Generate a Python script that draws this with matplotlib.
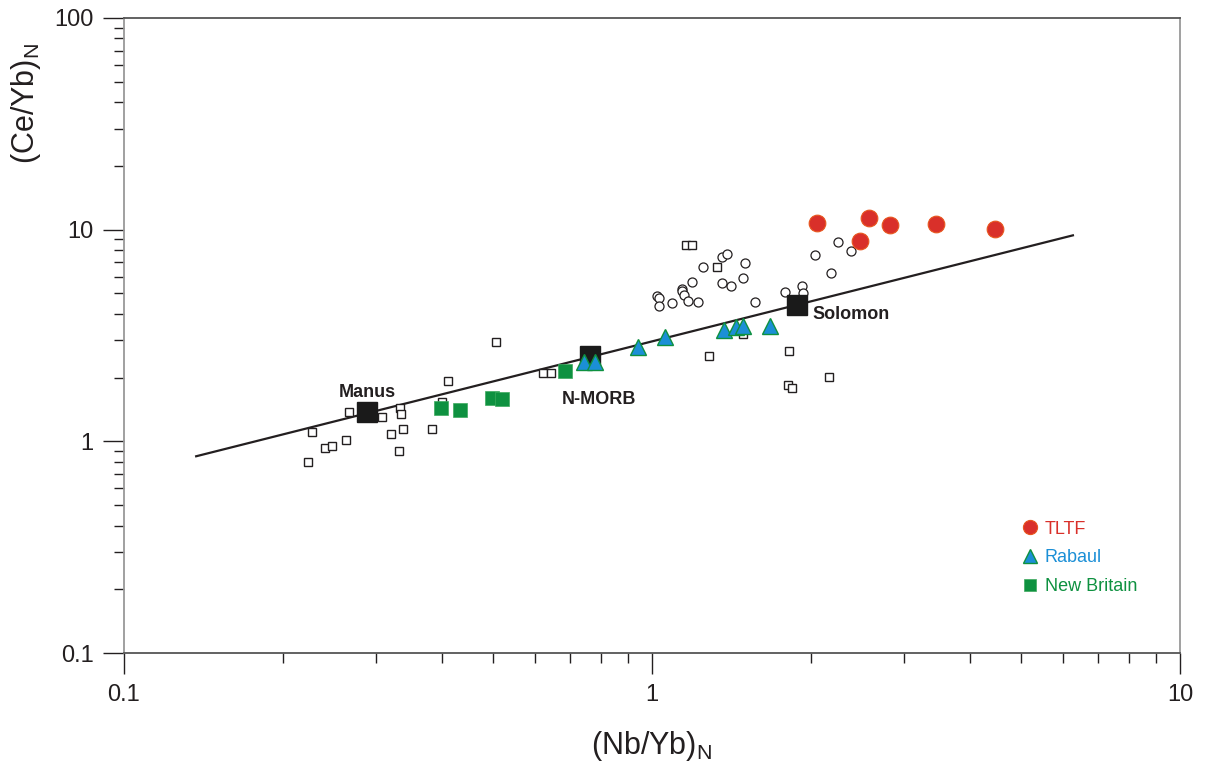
import numpy as np
import matplotlib
matplotlib.use("Agg")
import matplotlib.pyplot as plt

plt.rcParams['font.family'] = ['Liberation Sans', 'DejaVu Sans']
plt.rcParams['mathtext.default'] = 'regular'

# open squares (literature data)
sq_x = [0.227, 0.267, 0.223, 0.240, 0.248, 0.263, 0.308, 0.333, 0.335, 0.320,
        0.338, 0.332, 0.411, 0.383, 0.400, 0.507, 0.622, 0.644, 1.16, 1.19,
        1.33, 1.49, 1.28, 1.82, 1.81, 1.84, 2.16]
sq_y = [1.11, 1.37, 0.80, 0.93, 0.95, 1.01, 1.30, 1.43, 1.34, 1.08,
        1.14, 0.90, 1.92, 1.14, 1.53, 2.94, 2.10, 2.10, 8.43, 8.43,
        6.64, 3.20, 2.52, 2.66, 1.84, 1.78, 2.01]

# open circles
ci_x = [1.02, 1.03, 1.03, 1.09, 1.14, 1.14, 1.15, 1.17, 1.22, 1.19, 1.25, 1.36, 1.39,
        1.50, 1.36, 1.41, 1.49, 1.57, 1.79, 1.92, 1.93, 2.18, 2.04, 2.25, 2.38]
ci_y = [4.84, 4.74, 4.34, 4.49, 5.22, 5.11, 4.89, 4.58, 4.54, 5.64, 6.64, 7.40, 7.64,
        6.93, 5.57, 5.40, 5.89, 4.54, 5.06, 5.40, 5.00, 6.22, 7.56, 8.71, 7.90]

tltf_x = [2.05, 2.58, 2.82, 3.45, 4.46, 2.48]
tltf_y = [10.7, 11.3, 10.5, 10.6, 10.1, 8.81]

rab_x = [0.941, 1.06, 1.37, 1.44, 1.49, 1.67, 0.743, 0.780]
rab_y = [2.78, 3.10, 3.34, 3.46, 3.49, 3.49, 2.36, 2.36]

nb_x = [0.398, 0.433, 0.498, 0.520, 0.684]
nb_y = [1.43, 1.40, 1.60, 1.58, 2.14]

ref_names = ["Manus", "N-MORB", "Solomon"]
ref_x = [0.289, 0.763, 1.88]
ref_y = [1.37, 2.52, 4.39]

line_x = [0.137, 6.27]
line_y = [0.85, 9.40]

red = '#D9302A'
blue = '#1B8FD6'
green = '#0E9140'
txt = '#231F20'

fig = plt.figure(figsize=(12.06, 7.65), dpi=100)
ax = fig.add_axes([0.1028, 0.1464, 0.8756, 0.8301])

ax.plot(line_x, line_y, color=txt, lw=1.6, zorder=2)

ax.plot(sq_x, sq_y, 's', ms=6.3, mfc='white', mec=txt, mew=1.0, ls='none', zorder=3)
ax.plot(ci_x, ci_y, 'o', ms=6.5, mfc='white', mec=txt, mew=0.9, ls='none', zorder=3)

h1, = ax.plot(tltf_x, tltf_y, 'o', ms=12, mfc=red, mec='#E8561E', mew=0.8, ls='none', zorder=4, label='TLTF')
h3, = ax.plot(nb_x, nb_y, 's', ms=10, mfc=green, mec='#3DAA5E', mew=0.5, ls='none', zorder=4, label='New Britain')
ax.plot(ref_x, ref_y, 's', ms=15, mfc='#1A1A1A', mec='#1A1A1A', ls='none', zorder=5)
h2, = ax.plot(rab_x, rab_y, '^', ms=11.5, mfc=blue, mec=green, mew=1.0, ls='none', zorder=6, label='Rabaul')

ax.text(0.289, 1.70, "Manus", ha='center', va='center', fontsize=13, fontweight='bold', color=txt)
ax.text(0.794, 1.58, "N-MORB", ha='center', va='center', fontsize=13, fontweight='bold', color=txt)
ax.text(2.01, 3.98, "Solomon", ha='left', va='center', fontsize=13, fontweight='bold', color=txt)

ax.set_xscale('log')
ax.set_yscale('log')
ax.set_xlim(0.1, 10)
ax.set_ylim(0.1, 100)
ax.set_xticks([0.1, 1, 10])
ax.set_xticklabels(['0.1', '1', '10'])
ax.set_yticks([0.1, 1, 10, 100])
ax.set_yticklabels(['0.1', '1', '10', '100'])

ax.tick_params(which='major', direction='out', length=15, width=1.0, color=txt,
               labelsize=17, labelcolor=txt, pad=7)
ax.tick_params(which='minor', direction='out', length=7.5, width=1.0, color=txt)

for s in ['top', 'bottom']:
    ax.spines[s].set_color('#555555')
for s in ['left', 'right']:
    ax.spines[s].set_color('#999999')
for s in ax.spines.values():
    s.set_linewidth(1.3)

ax.set_xlabel(r'(Nb/Yb)$_N$', fontsize=22, color=txt, labelpad=17)
ax.set_ylabel(r'(Ce/Yb)$_N$', fontsize=22, color=txt)
ax.yaxis.set_label_coords(-0.077, 0.866)

leg = ax.legend(handles=[h1, h2, h3], loc='upper left', bbox_to_anchor=(0.836, 0.234),
                frameon=False, fontsize=13, handlelength=0.8, handletextpad=0.4,
                labelspacing=0.65, labelcolor=[red, blue, green], markerscale=0.85)

fig.savefig('out.png', dpi=100)
